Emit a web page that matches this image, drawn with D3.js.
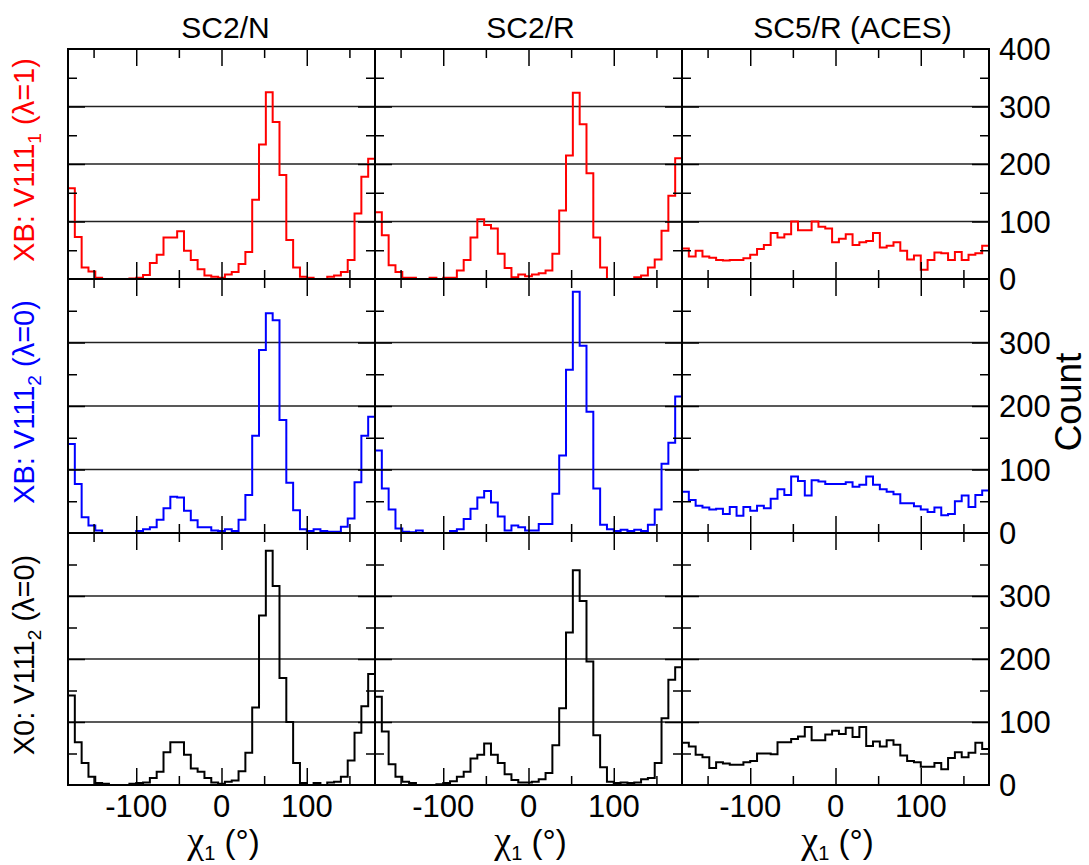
<!DOCTYPE html>
<html>
<head>
<meta charset="utf-8">
<script src="https://cdn.jsdelivr.net/npm/d3@7"></script>
<style>
body { margin: 0; background: #fff; }
text { font-family: "Liberation Sans", Arial, sans-serif; fill: #000; }
</style>
</head>
<body>
<div id="chart-area"></div>
<script>
// chi1 histograms, 45 bins of 8 degrees from -180 to 180
let binStart = -180, binWidth = 8;

let columnTitles = ["SC2/N", "SC2/R", "SC5/R (ACES)"];
let rowNames = [
    {pre: "XB: V111", sub: "1", post: " (\u03bb=1)"},
    {pre: "XB: V111", sub: "2", post: " (\u03bb=0)"},
    {pre: "X0: V111", sub: "2", post: " (\u03bb=0)"}];
let rowColors = ["#ff0000", "#0000ff", "#000000"];

let xMajor = [-100, 0, 100];
let xMinor = [-150, -50, 50, 150];
let yMajor = [100, 200, 300];
let yMinor = [50, 150, 250, 350];
let rightLabels = [[0, 100, 200, 300, 400], [0, 100, 200, 300], [0, 100, 200, 300]];

// row 1: XB V111_1 (lambda=1)
let xb1_sc2n = [158, 73, 20, 13, 2, 0, 0, 0, 0, 1, 2, 7, 28, 42, 72, 72, 83, 49, 33, 17, 6, 4, 2, 8, 12, 26, 47, 138, 234, 325, 273, 181, 68, 20, 4, 2, 0, 0, 4, 6, 12, 33, 114, 178, 209];
let xb1_sc2r = [116, 76, 24, 12, 2, 2, 0, 0, 2, 0, 2, 2, 15, 33, 72, 104, 94, 88, 44, 19, 3, 8, 5, 8, 10, 15, 44, 119, 215, 324, 269, 184, 72, 20, 0, 0, 0, 0, 3, 6, 20, 34, 84, 145, 210];
let xb1_sc5r = [53, 39, 49, 39, 37, 33, 32, 33, 33, 36, 42, 52, 59, 80, 72, 78, 100, 85, 85, 100, 91, 88, 64, 70, 78, 59, 64, 66, 80, 55, 58, 64, 49, 34, 41, 16, 33, 46, 45, 33, 47, 33, 42, 45, 58];

// row 2: XB V111_2 (lambda=0)
let xb2_sc2n = [140, 77, 25, 12, 4, 0, 0, 0, 0, 0, 3, 6, 9, 21, 39, 57, 56, 35, 20, 9, 9, 4, 3, 6, 3, 21, 60, 153, 288, 346, 335, 178, 79, 36, 6, 3, 6, 3, 2, 2, 10, 23, 80, 153, 183];
let xb2_sc2r = [130, 70, 37, 7, 2, 1, 4, 0, 0, 0, 0, 3, 6, 22, 38, 56, 66, 48, 26, 4, 12, 9, 4, 4, 14, 14, 62, 122, 257, 380, 295, 191, 70, 13, 6, 3, 5, 3, 5, 3, 13, 37, 109, 142, 215];
let xb2_sc5r = [65, 52, 43, 40, 37, 38, 30, 41, 27, 41, 35, 43, 39, 54, 69, 60, 89, 82, 59, 83, 81, 77, 77, 77, 80, 73, 76, 89, 76, 69, 65, 61, 47, 47, 42, 37, 33, 40, 28, 30, 50, 59, 41, 60, 67];

// row 3: X0 V111_2 (lambda=0)
let x0_sc2n = [142, 68, 35, 13, 3, 2, 0, 0, 0, 2, 3, 4, 11, 21, 52, 68, 68, 48, 26, 21, 11, 4, 2, 5, 7, 22, 51, 123, 269, 372, 316, 170, 100, 35, 3, 0, 3, 0, 4, 5, 13, 39, 83, 125, 176];
let x0_sc2r = [140, 85, 33, 13, 5, 3, 0, 0, 0, 1, 3, 6, 13, 21, 42, 48, 66, 48, 35, 17, 8, 4, 4, 5, 9, 19, 63, 122, 242, 341, 292, 196, 79, 28, 5, 3, 4, 3, 4, 9, 11, 35, 106, 167, 187];
let x0_sc5r = [67, 61, 48, 44, 27, 36, 34, 32, 32, 36, 38, 50, 50, 49, 68, 68, 73, 77, 92, 71, 71, 80, 86, 81, 91, 76, 92, 62, 69, 61, 71, 64, 47, 38, 36, 29, 29, 35, 25, 43, 52, 44, 51, 67, 57];

let panels = [
    [xb1_sc2n, xb1_sc2r, xb1_sc5r],
    [xb2_sc2n, xb2_sc2r, xb2_sc5r],
    [x0_sc2n, x0_sc2r, x0_sc5r]];

// layout
let colLeft = [68, 375, 682], colW = 307;
let rowTop = [49, 279, 533], rowBottom = [279, 533, 785];
let titleShift = [4, 2, 17];

let svg = d3.select("#chart-area")
    .append("svg")
    .attr("width", 1089)
    .attr("height", 865);

let x = d3.scaleLinear().domain([-180, 180]);

let line = d3.line()
    .curve(d3.curveStepAfter);

panels.forEach((row, r) => {
    let y = d3.scaleLinear().domain([0, 400]).range([rowBottom[r], rowTop[r]]);

    row.forEach((counts, c) => {
        let xs = x.copy().range([colLeft[c], colLeft[c] + colW]);
        let g = svg.append("g");
        let clipId = "clip" + r + c;

        g.append("clipPath").attr("id", clipId)
            .append("rect")
            .attr("x", colLeft[c]).attr("y", rowTop[r])
            .attr("width", colW).attr("height", rowBottom[r] - rowTop[r]);

        // grid
        g.selectAll(".grid").data(yMajor).join("line")
            .attr("x1", colLeft[c]).attr("x2", colLeft[c] + colW)
            .attr("y1", d => y(d)).attr("y2", d => y(d))
            .attr("stroke", "#222").attr("stroke-width", 1.4);

        // histogram
        let pts = counts.map((v, i) => [binStart + i * binWidth, v]);
        pts.push([binStart + counts.length * binWidth, counts[counts.length - 1]]);
        line.x(d => xs(d[0])).y(d => y(d[1]));
        g.append("path")
            .attr("d", line(pts))
            .attr("clip-path", "url(#" + clipId + ")")
            .attr("fill", "none")
            .attr("stroke", rowColors[r])
            .attr("stroke-width", 2);

        // inward ticks on all four sides
        let tickSets = [
            [d3.axisBottom(xs), "translate(0," + rowTop[r] + ")", xMajor, 17],
            [d3.axisBottom(xs), "translate(0," + rowTop[r] + ")", xMinor, 9],
            [d3.axisTop(xs), "translate(0," + rowBottom[r] + ")", xMajor, 17],
            [d3.axisTop(xs), "translate(0," + rowBottom[r] + ")", xMinor, 9],
            [d3.axisRight(y), "translate(" + colLeft[c] + ",0)", yMajor, 17],
            [d3.axisRight(y), "translate(" + colLeft[c] + ",0)", yMinor, 9],
            [d3.axisLeft(y), "translate(" + (colLeft[c] + colW) + ",0)", yMajor, 17],
            [d3.axisLeft(y), "translate(" + (colLeft[c] + colW) + ",0)", yMinor, 9]
        ];
        tickSets.forEach(t => {
            let a = g.append("g")
                .attr("transform", t[1])
                .call(t[0].tickValues(t[2]).tickSize(t[3]).tickFormat(""));
            a.select(".domain").remove();
            a.selectAll("line").attr("stroke", "#000").attr("stroke-width", 1.5);
        });

        // frame
        g.append("rect")
            .attr("x", colLeft[c]).attr("y", rowTop[r])
            .attr("width", colW).attr("height", rowBottom[r] - rowTop[r])
            .attr("fill", "none").attr("stroke", "#000").attr("stroke-width", 2);
    });

    // right-hand count labels
    svg.append("g").selectAll("text").data(rightLabels[r]).join("text")
        .attr("x", colLeft[2] + colW + 10)
        .attr("y", d => y(d))
        .attr("dy", "0.36em")
        .attr("font-size", 31)
        .text(d => d);

    // row label
    let lab = svg.append("text")
        .attr("transform", "translate(34," + ((rowTop[r] + rowBottom[r]) / 2 - 4) + ") rotate(-90)")
        .attr("text-anchor", "middle")
        .attr("font-size", 29)
        .style("fill", rowColors[r]);
    lab.append("tspan").text(rowNames[r].pre);
    lab.append("tspan").attr("font-size", 19).attr("dy", 7).text(rowNames[r].sub);
    lab.append("tspan").attr("dy", -7).text(rowNames[r].post);
});

// column titles and x labels
columnTitles.forEach((t, c) => {
    let xs = x.copy().range([colLeft[c], colLeft[c] + colW]);
    let cx = colLeft[c] + colW / 2;
    svg.append("text")
        .attr("x", cx + titleShift[c]).attr("y", 38)
        .attr("text-anchor", "middle")
        .attr("font-size", 30)
        .text(t);

    svg.append("g").selectAll("text").data(xMajor).join("text")
        .attr("x", d => xs(d))
        .attr("y", 817)
        .attr("text-anchor", "middle")
        .attr("font-size", 31)
        .text(d => d);

    let xl = svg.append("text")
        .attr("x", cx + 2).attr("y", 853)
        .attr("text-anchor", "middle")
        .attr("font-size", 33);
    xl.append("tspan").style("font-family", "'Liberation Serif', serif").attr("font-size", 38).text("\u03c7");
    xl.append("tspan").attr("font-size", 20).attr("dy", 7).text("1");
    xl.append("tspan").attr("dy", -7).text(" (\u00b0)");
});

svg.append("text")
    .attr("transform", "translate(1081,402) rotate(-90)")
    .attr("text-anchor", "middle")
    .attr("font-size", 37)
    .text("Count");
</script>
</body>
</html>
